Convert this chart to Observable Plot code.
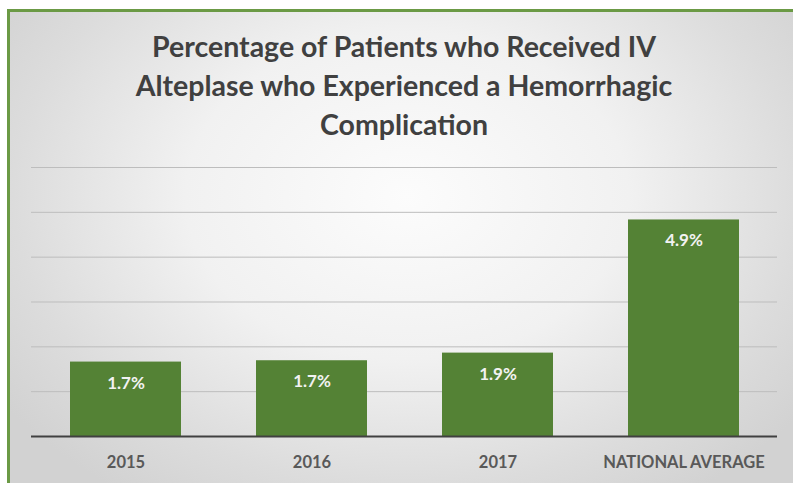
<!DOCTYPE html>
<html>
<head>
<meta charset="utf-8">
<script src="https://cdn.jsdelivr.net/npm/d3@7"></script>
<script src="https://cdn.jsdelivr.net/npm/@observablehq/plot@0.6"></script>
<style>
  html, body { margin: 0; padding: 0; background: #ffffff; overflow: hidden; }
  #wrap { position: relative; width: 793px; height: 483px; overflow: hidden; font-family: Lato, "Open Sans", sans-serif; }
  #frame {
    position: absolute; left: 7px; top: 9px; width: 800px; height: 490px;
    border: 3px solid #6b9a45; box-sizing: border-box;
    background: radial-gradient(ellipse 62% 75% at 50% 38%, #fcfcfc 0%, #f1f1f1 45%, #dcdcdc 80%, #d2d2d2 100%);
  }
  #title {
    position: absolute; left: 0; width: 808px; top: 27px; text-align: center;
    font-size: 28.5px; font-weight: 700; color: #404040; line-height: 39px;
  }
  #chart { position: absolute; left: 0; top: 0; }
</style>
</head>
<body>
<div id="wrap">
  <div id="frame"></div>
  <div id="title">Percentage of Patients who Received IV<br>Alteplase who Experienced a Hemorrhagic<br>Complication</div>
  <div id="chart"></div>
</div>
<script>
const categories = ["2015", "2016", "2017", "NATIONAL AVERAGE"];
const values = [1.66, 1.69, 1.86, 4.83];
const labels = ["1.7%", "1.7%", "1.9%", "4.9%"];
const gridTicks = [1, 2, 3, 4, 5, 6];

const data = categories.map((c, i) => ({category: c, value: values[i], label: labels[i]}));

const chart = Plot.plot({
  width: 793,
  height: 483,
  marginTop: 167,
  marginBottom: 47,
  marginLeft: 31,
  marginRight: 16,
  style: {background: "transparent", fontFamily: "Lato, 'Open Sans', sans-serif"},
  x: {domain: categories, paddingInner: 0.405, paddingOuter: 0.2025, label: null},
  y: {domain: [0, 6], axis: null},
  marks: [
    Plot.ruleY(gridTicks, {stroke: "#bdbdbd", strokeWidth: 1}),
    Plot.barY(data, {x: "category", y: "value", fill: "#548235"}),
    Plot.ruleY([0], {stroke: "#404040", strokeWidth: 2}),
    Plot.text(data, {x: "category", y: "value", text: "label", dy: 21, fill: "#f2f2f2", fontSize: 17, fontWeight: "bold"}),
    Plot.axisX({tickSize: 0, tickPadding: 20, fontSize: 16.5, fontWeight: "bold", fill: "#595959", label: null})
  ]
});
document.getElementById("chart").appendChild(chart);
</script>
</body>
</html>
